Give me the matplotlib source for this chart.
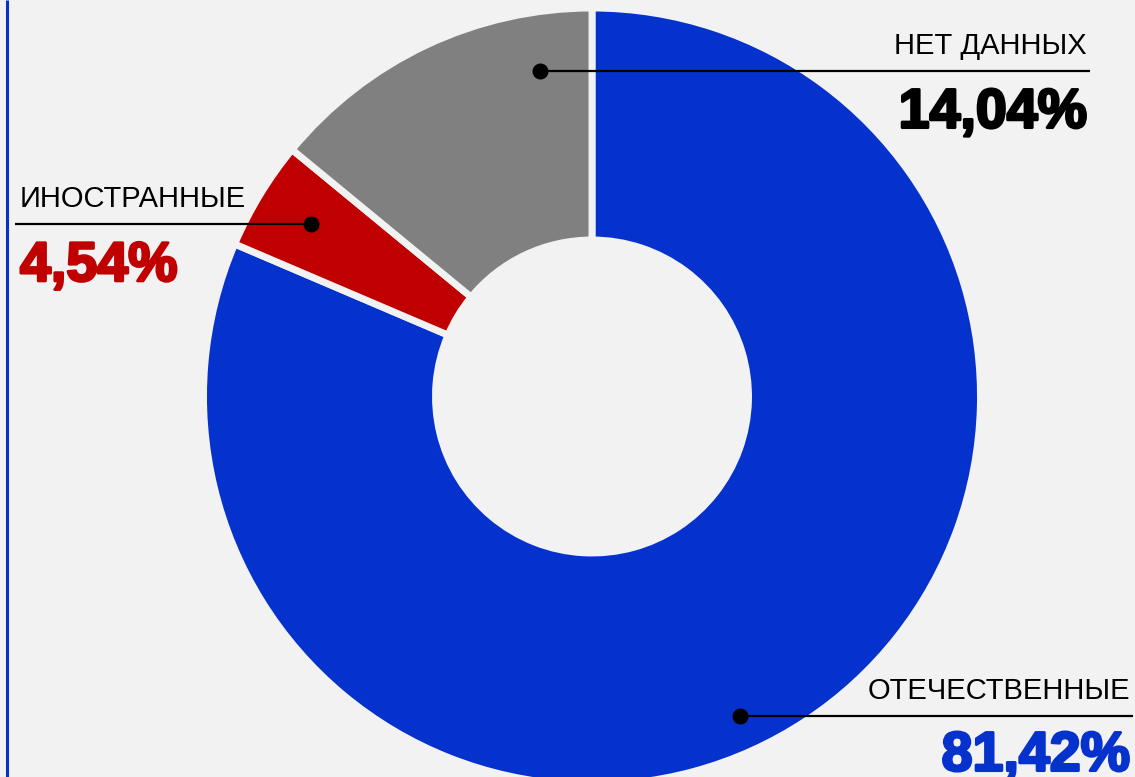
import matplotlib.pyplot as plt
import matplotlib.patheffects as pe
import numpy as np

# data
labels = ['ОТЕЧЕСТВЕННЫЕ', 'ИНОСТРАННЫЕ', 'НЕТ ДАННЫХ']
shares = [81.42, 4.54, 14.04]
colors = ['#0532CD', '#C00000', '#808080']
pct_colors = ['#0532CD', '#C00000', '#000000']

bg = '#F2F2F2'
W, H = 1135, 777

fig = plt.figure(figsize=(W / 100, H / 100), dpi=100, facecolor=bg)
ax = fig.add_axes([0, 0, 1, 1])
ax.set_facecolor(bg)

# pixel-like coordinates, y measured upward
cx, cy = 592, H - 396.5
r_out, r_in = 388.5, 156.5

wedges, _ = ax.pie(shares, colors=colors, startangle=90, counterclock=False,
                   center=(cx, cy), radius=r_out,
                   wedgeprops=dict(width=r_out - r_in, edgecolor=bg, linewidth=5))

ax.set_xlim(0, W)
ax.set_ylim(0, H)
ax.set_aspect('equal')
ax.axis('off')

# left blue border
ax.plot([7, 7], [0, H], color='#0532CD', lw=2.2, solid_capstyle='butt')

# annotation layout: (position along wedge, anchor radius, line end x, side, pct offset)
layout = [
    (0.471, 352, 1133, 'right', 55),
    (0.485, 330, 15, 'left', 57),
    (0.18, 330, 1090, 'right', 57),
]

for w, lab, val, pc, (f, rr, xend, side, dy) in zip(wedges, labels, shares, pct_colors, layout):
    ang = np.deg2rad(w.theta1 + f * (w.theta2 - w.theta1))
    px = cx + rr * np.cos(ang)
    py = cy + rr * np.sin(ang)
    ax.plot([px, xend], [py, py], color='black', lw=1.6, solid_capstyle='butt')
    ax.plot(px, py, 'o', color='black', markersize=10.5)
    if side == 'right':
        tx = xend - 3
        ha = 'right'
    else:
        tx = xend + 5
        ha = 'left'
    ax.text(tx, py + 17, lab, ha=ha, va='baseline', fontsize=21,
            family='Liberation Sans', color='black')
    ax.text(tx, py - dy, f'{val:.2f}'.replace('.', ',') + '%', ha=ha, va='baseline',
            fontsize=40, fontweight='bold', family='Liberation Sans', color=pc,
            path_effects=[pe.withStroke(linewidth=2, foreground=pc)])

fig.savefig('out.png', dpi=100, facecolor=bg)
